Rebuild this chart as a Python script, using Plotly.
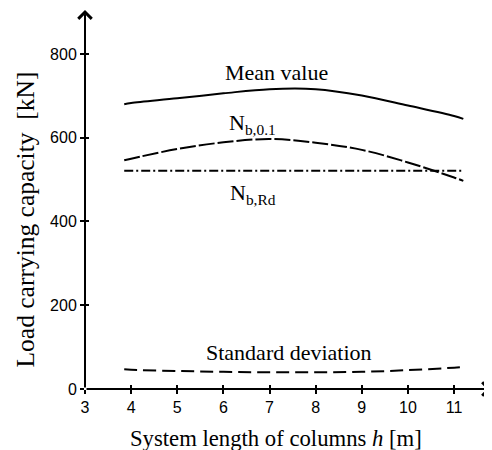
import plotly.graph_objects as go

# ---- data ----
h = [3.85, 4, 5, 6, 7, 8, 9, 10, 11, 11.2]
mean_value = [680, 683, 694, 706, 716, 716, 701, 677, 652, 645]
n_b01 = [546, 550, 573, 589, 597, 588, 571, 541, 505, 497]
std_dev = [47, 46, 43, 41, 40, 40, 41, 45, 51, 53]
h_rd = [3.85, 11.17]
n_brd = [521, 521]

x_ticks = [3, 4, 5, 6, 7, 8, 9, 10, 11]
y_ticks = [0, 200, 400, 600, 800]

SERIF = "Liberation Serif, Times New Roman, serif"
SANS = "Liberation Sans, Arial, sans-serif"

fig = go.Figure()
line_common = dict(color="black", width=2, shape="spline")
fig.add_trace(go.Scatter(x=h, y=mean_value, mode="lines", line=dict(**line_common)))
fig.add_trace(go.Scatter(x=h, y=n_b01, mode="lines", line=dict(**line_common, dash="16px,3px")))
fig.add_trace(go.Scatter(x=h_rd, y=n_brd, mode="lines",
                         line=dict(color="black", width=2, dash="9px,3px,2px,3px")))
fig.add_trace(go.Scatter(x=h, y=std_dev, mode="lines", line=dict(**line_common, dash="13px,6px")))
# empty trace to activate the overlay axes (inner tick halves)
fig.add_trace(go.Scatter(x=[], y=[], xaxis="x2", yaxis="y2", showlegend=False))

xr = [3, 11.8]
yr = [0, 905]

# page body has an 8px margin, so the figure is 8px smaller on each axis
fig.update_layout(
    width=484, height=442,
    margin=dict(l=77, r=1, t=2, b=61, autoexpand=False),
    paper_bgcolor="white", plot_bgcolor="white",
    showlegend=False,
    xaxis=dict(range=xr, tickvals=x_ticks, ticks="outside", ticklen=4, tickwidth=1.5,
               tickcolor="black", showline=False, showgrid=False, zeroline=False,
               automargin=False,
               tickfont=dict(family=SANS, size=16, color="black")),
    yaxis=dict(range=yr, tickvals=y_ticks, ticks="outside", ticklen=4, tickwidth=1.5,
               tickcolor="black", showline=False, showgrid=False, zeroline=False,
               automargin=False,
               tickfont=dict(family=SANS, size=16, color="black")),
    xaxis2=dict(range=xr, tickvals=x_ticks, ticks="inside", ticklen=4, tickwidth=1.5,
                tickcolor="black", overlaying="x", anchor="y2", showticklabels=False,
                showgrid=False, zeroline=False, showline=False),
    yaxis2=dict(range=yr, tickvals=y_ticks, ticks="inside", ticklen=4, tickwidth=1.5,
                tickcolor="black", overlaying="y", anchor="x2", showticklabels=False,
                showgrid=False, zeroline=False, showline=False),
)

# axis lines with open arrowheads
fig.add_annotation(x=11.8, y=0, ax=3, ay=0, xref="x", yref="y", axref="x", ayref="y",
                   showarrow=True, arrowhead=4, arrowsize=1.3, arrowwidth=2,
                   arrowcolor="black", text="")
fig.add_annotation(x=3, y=905, ax=3, ay=0, xref="x", yref="y", axref="x", ayref="y",
                   showarrow=True, arrowhead=4, arrowsize=1.3, arrowwidth=2,
                   arrowcolor="black", text="")

lab = dict(showarrow=False, xref="x", yref="y", font=dict(family=SERIF, size=22, color="black"))
fig.add_annotation(x=7.15, y=755, text="Mean value", **lab)
fig.add_annotation(x=6.64, y=632, text="N<sub>b,0.1</sub>", **lab)
fig.add_annotation(x=6.64, y=466, text="N<sub>b,Rd</sub>", **lab)
fig.add_annotation(x=7.42, y=86, text="Standard deviation", **lab)

# axis titles
fig.add_annotation(x=0.4704, y=-0.1293, xref="paper", yref="paper", showarrow=False,
                   xanchor="center", yanchor="middle",
                   text="System length of columns <i>h</i> [m]",
                   font=dict(family=SERIF, size=22.7, color="black"))
fig.add_annotation(x=-0.1455, y=0.447, xref="paper", yref="paper", showarrow=False,
                   xanchor="center", yanchor="middle", textangle=-90,
                   text="Load carrying capacity\u00a0\u00a0[kN]",
                   font=dict(family=SERIF, size=25.5, color="black"))

fig.write_html("out.html")
